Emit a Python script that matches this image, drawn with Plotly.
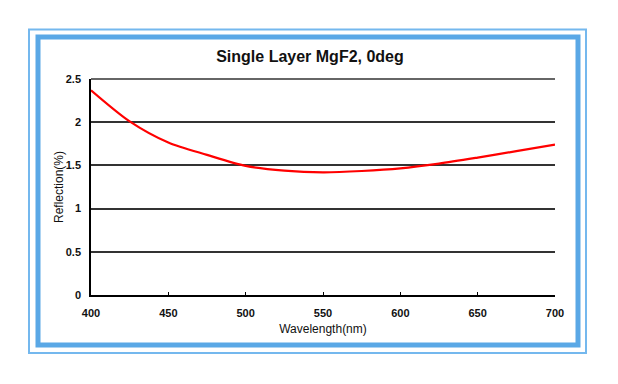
import plotly.graph_objects as go

wavelength = [400, 425, 450, 475, 500, 525, 550, 575, 600, 625, 650, 675, 700]
reflection = [2.37, 2.01, 1.765, 1.622, 1.495, 1.44, 1.42, 1.435, 1.465, 1.52, 1.59, 1.665, 1.74]
x_ticks = [400, 450, 500, 550, 600, 650, 700]
y_ticks = [0, 0.5, 1, 1.5, 2, 2.5]
y_tick_labels = ["0", "0.5", "1", "1.5", "2", "2.5"]

# page body adds an 8px offset; lay the figure out in page pixels minus that
OFF = 8
W, H = 618 - OFF, 384 - OFF
L, R, T, B = 91 - OFF, 63, 79 - OFF, 384 - 295
pw, ph = W - L - R, H - T - B

def px(x):
    return (x - OFF - L) / pw

def py(y):
    return (H - B - (y - OFF)) / ph

fig = go.Figure()
fig.add_trace(go.Scatter(x=wavelength, y=reflection, mode="lines",
                         line=dict(color="#FF0000", width=2.2, shape="spline", smoothing=0.8),
                         showlegend=False, hoverinfo="skip"))

shapes = [
    dict(type="rect", xref="paper", yref="paper", x0=px(29), x1=px(586), y0=py(29.5), y1=py(353),
         line=dict(color="#74B8EE", width=2), layer="below"),
    dict(type="rect", xref="paper", yref="paper", x0=px(38), x1=px(578), y0=py(37), y1=py(345),
         line=dict(color="#5AA8E6", width=5), layer="below"),
    dict(type="line", xref="paper", yref="paper", x0=0, x1=1, y0=1, y1=1,
         line=dict(color="#333333", width=1.5), layer="below"),
]

fig.update_layout(
    width=W, height=H,
    margin=dict(l=L, r=R, t=T, b=B, autoexpand=False),
    paper_bgcolor="white", plot_bgcolor="white",
    shapes=shapes,
    title=dict(text="<b>Single Layer MgF2, 0deg</b>", xref="paper", x=px(310), xanchor="center",
               yref="container", y=1 - (56.5 - OFF) / H, yanchor="middle",
               font=dict(family="Liberation Sans, Arial", size=16, color="#111111")),
    font=dict(family="Liberation Sans, Arial", color="#111111"),
    xaxis=dict(range=[400, 700], tickvals=x_ticks, ticks="inside", ticklen=3,
               tickcolor="#000", showline=True, linecolor="#000", linewidth=1.5,
               showgrid=False, zeroline=False, ticklabelstandoff=7,
               tickfont=dict(size=11, family="Liberation Sans, Arial", weight="bold"),
               title=dict(text="Wavelength(nm)", font=dict(size=12), standoff=7)),
    yaxis=dict(range=[0, 2.5], tickvals=y_ticks, ticktext=y_tick_labels, ticks="",
               showline=True, linecolor="#000", linewidth=1.5,
               showgrid=True, gridcolor="#333333", gridwidth=1.5, zeroline=False,
               ticklabelstandoff=6,
               tickfont=dict(size=11, family="Liberation Sans, Arial", weight="bold"),
               title=dict(text="Reflection(%)", font=dict(size=12), standoff=0)),
)

fig.write_html("out.html")
